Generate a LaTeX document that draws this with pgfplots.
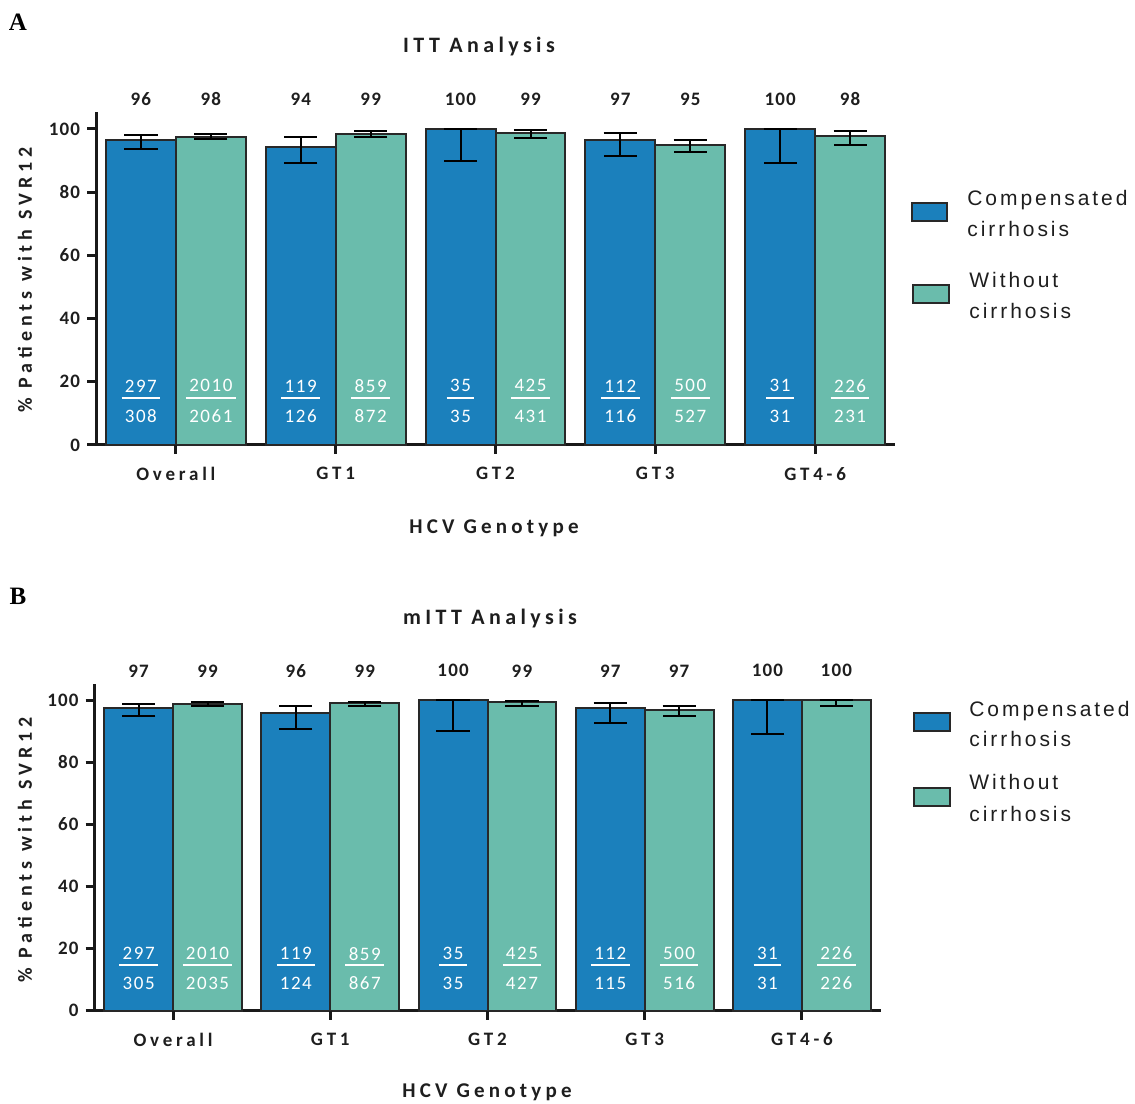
\documentclass[border=0pt]{standalone}
\usepackage{pgfplots}
\pgfplotsset{compat=1.18}
\usepackage{pgfplotstable}
\usepackage{fontspec}
\setmainfont{Carlito}
\newfontfamily\spc[LetterSpace=20]{Carlito}
\newfontfamily\spy[LetterSpace=25]{Carlito}
\newfontfamily\tks[LetterSpace=6]{Carlito}
\newfontfamily\nmf[LetterSpace=8]{Carlito}
\newfontfamily\arl[LetterSpace=14]{Liberation Sans}
\newfontfamily\tms{Liberation Serif}
\definecolor{cblue}{RGB}{27,128,188}
\definecolor{cteal}{RGB}{106,188,172}
\definecolor{edge}{RGB}{40,40,40}
\definecolor{txt}{RGB}{30,30,30}

% ITT analysis: x, cirrhosis %, +err, -err, without %, +err, -err
\pgfplotstableread{
x c cp cm w wp wm
0 96.4 1.6 2.8 97.5 0.8 0.8
1 94.4 3.0 5.3 98.5 0.7 0.9
2 100 0 10.0 98.6 1.0 1.6
3 96.6 2.1 5.1 94.9 1.6 2.3
4 100 0 10.8 97.8 1.4 2.8
}\tA
% mITT analysis
\pgfplotstableread{
x c cp cm w wp wm
0 97.4 1.4 2.5 98.8 0.5 0.6
1 96.0 2.3 5.2 99.1 0.5 0.9
2 100 0 9.8 99.5 0.4 1.3
3 97.4 1.7 4.8 96.9 1.3 2.0
4 100 0 10.9 100 0 1.7
}\tB

\pgfplotsset{
  myax/.style={
    scale only axis, clip=false, enlargelimits=false,
    xmin=-0.5, xmax=4.5, ymin=0,
    axis x line=bottom, axis y line=left,
    axis line style={-, line width=1.5pt, black!90},
    tick style={line width=1.5pt, black!90},
    major tick length=4.5pt, tick align=outside,
    xtick pos=bottom, ytick pos=left,
    ytick={0,20,40,60,80,100},
    xtick={0,1,2,3,4},
    xticklabels={Overall,GT1,GT2,GT3,GT4-6},
    /pgf/number format/assume math mode=true,
    yticklabel style={font=\tks\bfseries\fontsize{9.5}{11}\selectfont, text=txt},
    xticklabel style={font=\spc\bfseries\fontsize{9.5}{11}\selectfont, text=txt, yshift=-3pt},
  },
  ebar/.style={ybar, draw=edge, line width=1pt, bar width=0.438, bar shift=0pt,
    error bars/y dir=both, error bars/y explicit,
    error bars/error bar style={line width=1pt, black},
    error bars/error mark options={rotate=90, mark size=8.3pt, line width=1pt, black}},
}

\newcommand{\frc}[3]{%
  \node[text=white,inner sep=0pt,font=\nmf\fontsize{9.5}{11}\selectfont] (n) at (axis cs:#1,\numy) {#2};
  \node[text=white,inner sep=0pt,font=\nmf\fontsize{9.5}{11}\selectfont] at (axis cs:#1,\deny) {#3};
  \coordinate (l) at (axis cs:#1,\liney);
  \draw[white,line width=1pt] ([xshift=-1.5pt]n.west |- l) -- ([xshift=1.5pt]n.east |- l);
}
\newcommand{\tp}[2]{\node[font=\tks\bfseries\fontsize{9.5}{11}\selectfont, text=txt] at (axis cs:#1,109.5) {#2};}
\newcommand{\xt}[1]{\draw[line width=1.5pt, black!90] (axis cs:#1,0) -- ([yshift=-4.5pt]axis cs:#1,0);}

\begin{document}
\begin{tikzpicture}[x=0.5pt,y=0.5pt]
\path[use as bounding box] (0,0) rectangle (1135,1103);

% ---------------- Panel A ----------------
\def\numy{18.7}\def\liney{14.9}\def\deny{9.2}
\begin{axis}[myax, at={(48pt,329pt)}, anchor=south west, width=399.5pt, height=166.7pt, ymax=105.5]
\addplot[fill=cblue, ebar] table[x expr=\thisrow{x}-0.219, y=c, y error plus=cp, y error minus=cm] {\tA};
\addplot[fill=cteal, ebar] table[x expr=\thisrow{x}+0.219, y=w, y error plus=wp, y error minus=wm] {\tA};
\draw[line width=1.5pt, black!90] (axis cs:-0.5,0) -- ([xshift=-4.5pt]axis cs:-0.5,0);
\xt{0}\xt{1}\xt{2}\xt{3}\xt{4}
\tp{-0.219}{96}\tp{0.219}{98}\tp{0.781}{94}\tp{1.219}{99}\tp{1.781}{100}\tp{2.219}{99}
\tp{2.781}{97}\tp{3.219}{95}\tp{3.781}{100}\tp{4.219}{98}
\frc{-0.219}{297}{308}\frc{0.219}{2010}{2061}
\frc{0.781}{119}{126}\frc{1.219}{859}{872}
\frc{1.781}{35}{35}\frc{2.219}{425}{431}
\frc{2.781}{112}{116}\frc{3.219}{500}{527}
\frc{3.781}{31}{31}\frc{4.219}{226}{231}
\end{axis}

% ---------------- Panel B ----------------
\def\numy{18.4}\def\liney{14.6}\def\deny{8.9}
\begin{axis}[myax, at={(47.25pt,46.15pt)}, anchor=south west, width=393pt, height=163.35pt, ymax=105.25]
\addplot[fill=cblue, ebar] table[x expr=\thisrow{x}-0.219, y=c, y error plus=cp, y error minus=cm] {\tB};
\addplot[fill=cteal, ebar] table[x expr=\thisrow{x}+0.219, y=w, y error plus=wp, y error minus=wm] {\tB};
\draw[line width=1.5pt, black!90] (axis cs:-0.5,0) -- ([xshift=-4.5pt]axis cs:-0.5,0);
\xt{0}\xt{1}\xt{2}\xt{3}\xt{4}
\tp{-0.219}{97}\tp{0.219}{99}\tp{0.781}{96}\tp{1.219}{99}\tp{1.781}{100}\tp{2.219}{99}
\tp{2.781}{97}\tp{3.219}{97}\tp{3.781}{100}\tp{4.219}{100}
\frc{-0.219}{297}{305}\frc{0.219}{2010}{2035}
\frc{0.781}{119}{124}\frc{1.219}{859}{867}
\frc{1.781}{35}{35}\frc{2.219}{425}{427}
\frc{2.781}{112}{115}\frc{3.219}{500}{516}
\frc{3.781}{31}{31}\frc{4.219}{226}{226}
\end{axis}

% ---------------- annotations ----------------
\node[font=\tms\bfseries\fontsize{12.5}{14}\selectfont] at (18,1081) {A};
\node[font=\tms\bfseries\fontsize{12.5}{14}\selectfont] at (18,507) {B};
\node[font=\spc\bfseries\fontsize{11}{13}\selectfont, text=txt] at (479,1056) {ITT Analysis};
\node[font=\spc\bfseries\fontsize{11}{13}\selectfont, text=txt] at (490,484) {mITT Analysis};
\node[rotate=90, font=\spy\bfseries\fontsize{10}{12}\selectfont, text=txt] at (25,823) {\% Patients with SVR12};
\node[rotate=90, font=\spy\bfseries\fontsize{10}{12}\selectfont, text=txt] at (25,253) {\% Patients with SVR12};
\node[font=\spc\bfseries\fontsize{10.5}{12}\selectfont, text=txt] at (494,575) {HCV Genotype};
\node[font=\spc\bfseries\fontsize{10.5}{12}\selectfont, text=txt] at (487,11) {HCV Genotype};

% legend A
\filldraw[fill=cblue, draw=edge, line width=1pt] (912,882) rectangle (947,900);
\node[anchor=base west, inner sep=0pt, font=\arl\fontsize{10.5}{12}\selectfont, text=txt] at (967,897) {Compensated};
\node[anchor=base west, inner sep=0pt, font=\arl\fontsize{10.5}{12}\selectfont, text=txt] at (967,866) {cirrhosis};
\filldraw[fill=cteal, draw=edge, line width=1pt] (913,800) rectangle (949,818);
\node[anchor=base west, inner sep=0pt, font=\arl\fontsize{10.5}{12}\selectfont, text=txt] at (969,815) {Without};
\node[anchor=base west, inner sep=0pt, font=\arl\fontsize{10.5}{12}\selectfont, text=txt] at (969,784) {cirrhosis};
% legend B
\filldraw[fill=cblue, draw=edge, line width=1pt] (914,372) rectangle (950,390);
\node[anchor=base west, inner sep=0pt, font=\arl\fontsize{10.5}{12}\selectfont, text=txt] at (969,386.3) {Compensated};
\node[anchor=base west, inner sep=0pt, font=\arl\fontsize{10.5}{12}\selectfont, text=txt] at (969,356.3) {cirrhosis};
\filldraw[fill=cteal, draw=edge, line width=1pt] (914,297) rectangle (950,315);
\node[anchor=base west, inner sep=0pt, font=\arl\fontsize{10.5}{12}\selectfont, text=txt] at (969,313) {Without};
\node[anchor=base west, inner sep=0pt, font=\arl\fontsize{10.5}{12}\selectfont, text=txt] at (969,281.3) {cirrhosis};
\end{tikzpicture}
\end{document}
